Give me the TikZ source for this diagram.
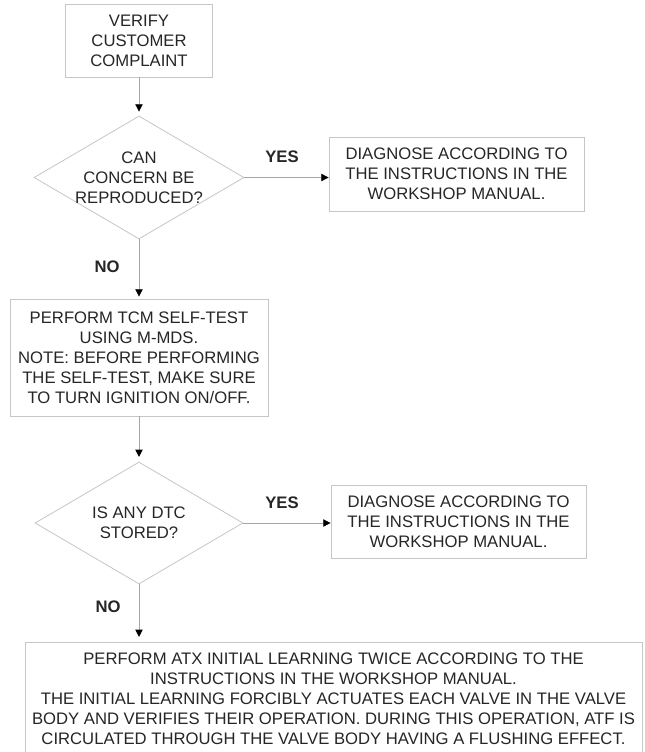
\documentclass[tikz,border=0pt]{standalone}
\usepackage{fontspec}
\setmainfont{Liberation Sans}
\usetikzlibrary{shapes.geometric,arrows.meta,positioning}

\begin{document}
\begin{tikzpicture}[x=0.75pt,y=-0.75pt,
    every node/.style={font=\fontsize{12.5}{15}\selectfont, text=black!85},
    stepbox/.style 2 args={draw=gray!45, line width=0.6pt, rectangle, align=center,
        inner sep=0pt, minimum width=#1*0.75pt, minimum height=#2*0.75pt},
    decision/.style 2 args={draw=gray!45, line width=0.6pt, diamond, inner sep=0pt,
        minimum width=#1*0.75pt, minimum height=#2*0.75pt},
    flow/.style={draw=gray!70, line width=0.6pt,
        -{Triangle[length=5.5pt,width=5.5pt,color=black]}},
    answer/.style={font=\fontsize{12.5}{15}\selectfont\bfseries}]

\useasboundingbox[fill=white] (0,0) rectangle (645,752);

% boxes and questions
\node[stepbox={147}{73}] (verify) at (139,40.5) {VERIFY\\CUSTOMER\\COMPLAINT};

\node[decision={210}{123}] (canq) at (139,177.5) {};
\node[align=center] (canqtext) at (canq) {CAN\\CONCERN BE\\REPRODUCED?};

\node[stepbox={255}{74}] (diag1) at (456.5,174) {DIAGNOSE ACCORDING TO\\THE INSTRUCTIONS IN THE\\WORKSHOP MANUAL.};

\node[stepbox={258}{117}] (selftest) at (139,357.5) {PERFORM TCM SELF-TEST\\USING M-MDS.\\NOTE: BEFORE PERFORMING\\THE SELF-TEST, MAKE SURE\\TO TURN IGNITION ON/OFF.};

\node[decision={208}{122}] (dtcq) at (139,523) {};
\node[align=center] (dtcqtext) at (dtcq) {IS ANY DTC\\STORED?};

\node[stepbox={255}{73}] (diag2) at (458.5,521.5) {DIAGNOSE ACCORDING TO\\THE INSTRUCTIONS IN THE\\WORKSHOP MANUAL.};

\node[stepbox={617}{114}] (learning) at (333.5,699) {PERFORM ATX INITIAL LEARNING TWICE ACCORDING TO THE\\INSTRUCTIONS IN THE WORKSHOP MANUAL.\\THE INITIAL LEARNING FORCIBLY ACTUATES EACH VALVE IN THE VALVE\\BODY AND VERIFIES THEIR OPERATION. DURING THIS OPERATION, ATF IS\\CIRCULATED THROUGH THE VALVE BODY HAVING A FLUSHING EFFECT.};

% answers
\node[answer] (yes1) at (282,157) {YES};
\node[answer] (no1) at (107,267) {NO};
\node[answer] (yes2) at (282,503) {YES};
\node[answer] (no2) at (108,607) {NO};

% connectors
\draw[flow, shorten >=3pt] (verify.south) -- (canq.north);
\draw[flow] (canq.east) -- (canq.east -| diag1.west);
\draw[flow, shorten >=1.5pt] (canq.south) -- (selftest.north);
\draw[flow, shorten >=3.5pt] (selftest.south) -- (dtcq.north);
\draw[flow] (dtcq.east) -- (dtcq.east -| diag2.west);
\draw[flow, shorten >=3.5pt] (dtcq.south) -- (dtcq.south |- learning.north);

\end{tikzpicture}
\end{document}
